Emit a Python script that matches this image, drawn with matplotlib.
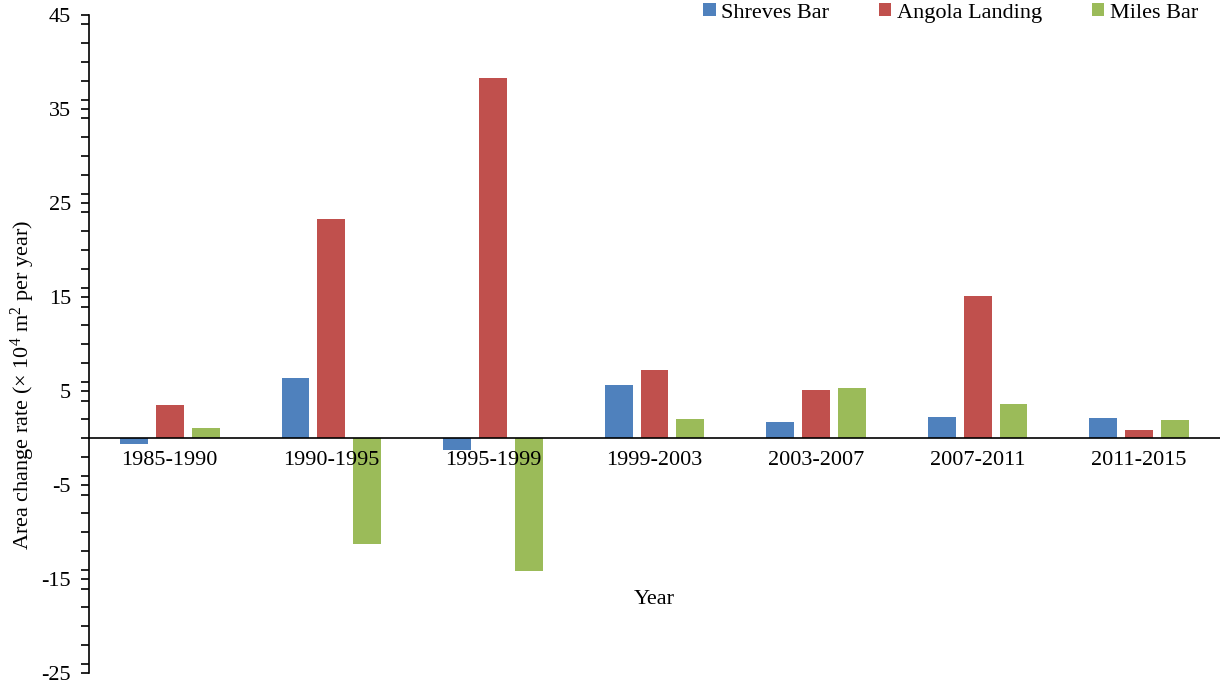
import matplotlib
matplotlib.use("Agg")
import matplotlib.pyplot as plt
import numpy as np
from matplotlib.ticker import MultipleLocator, FixedLocator

plt.rcParams['font.family'] = ['Liberation Serif', 'DejaVu Serif']
plt.rcParams['mathtext.fontset'] = 'custom'
plt.rcParams['mathtext.rm'] = 'Liberation Serif'
plt.rcParams['mathtext.it'] = 'Liberation Serif:italic'
plt.rcParams['axes.unicode_minus'] = False

categories = ["1985-1990", "1990-1995", "1995-1999", "1999-2003", "2003-2007", "2007-2011", "2011-2015"]
shreves = [-0.6, 6.4, -1.3, 5.7, 1.75, 2.25, 2.1]
angola = [3.5, 23.3, 38.3, 7.2, 5.1, 15.1, 0.85]
miles = [1.1, -11.3, -14.1, 2.0, 5.3, 3.6, 1.9]
series_names = ["Shreves Bar", "Angola Landing", "Miles Bar"]
colors = ["#4F81BD", "#C0504D", "#9BBB59"]

FS = 16

fig = plt.figure(figsize=(12.2, 6.84), dpi=100)
ax = fig.add_axes([89/1220, 1-673.3/684, 1-89/1220, (673.3-15)/684])

x = np.arange(len(categories))
w = 0.173
off = 0.222
for i, (vals, name, c) in enumerate(zip([shreves, angola, miles], series_names, colors)):
    ax.bar(x + (i-1)*off, vals, width=w, color=c, label=name, zorder=1)
ax.set_axisbelow(False)

ax.set_xlim(-0.5, len(categories)-0.5)
ax.set_ylim(-25, 45)
ax.yaxis.set_major_locator(FixedLocator([45, 35, 25, 15, 5, -5, -15, -25]))
ax.yaxis.set_minor_locator(MultipleLocator(2))
ax.tick_params(axis='y', which='both', direction='out', length=6, width=1.2, labelsize=FS, pad=7)
ax.tick_params(axis='x', which='both', length=0, labelsize=FS, pad=9)
ax.set_xticks(x)
ax.set_xticklabels(categories)

for s in ['top', 'right']:
    ax.spines[s].set_visible(False)
ax.spines['bottom'].set_position(('data', 0))
ax.spines['bottom'].set_zorder(3)
ax.spines['left'].set_linewidth(1.2)
ax.spines['bottom'].set_linewidth(1.2)

ax.set_ylabel(r'Area change rate (× 10$^{4}$ m$^{2}$ per year)', fontsize=FS)
ax.yaxis.set_label_coords(-0.046, 0.438)
ax.text(3.0, -17.2, 'Year', ha='center', va='center', fontsize=FS)

leg = fig.legend(loc='upper right', bbox_to_anchor=(1198/1220, 1-3/684), ncol=3, frameon=False,
                 fontsize=FS, handlelength=0.55, handleheight=0.55, handletextpad=0.25,
                 columnspacing=2.25, borderaxespad=0.0, borderpad=0.0)

fig.savefig('out.png', dpi=100)
